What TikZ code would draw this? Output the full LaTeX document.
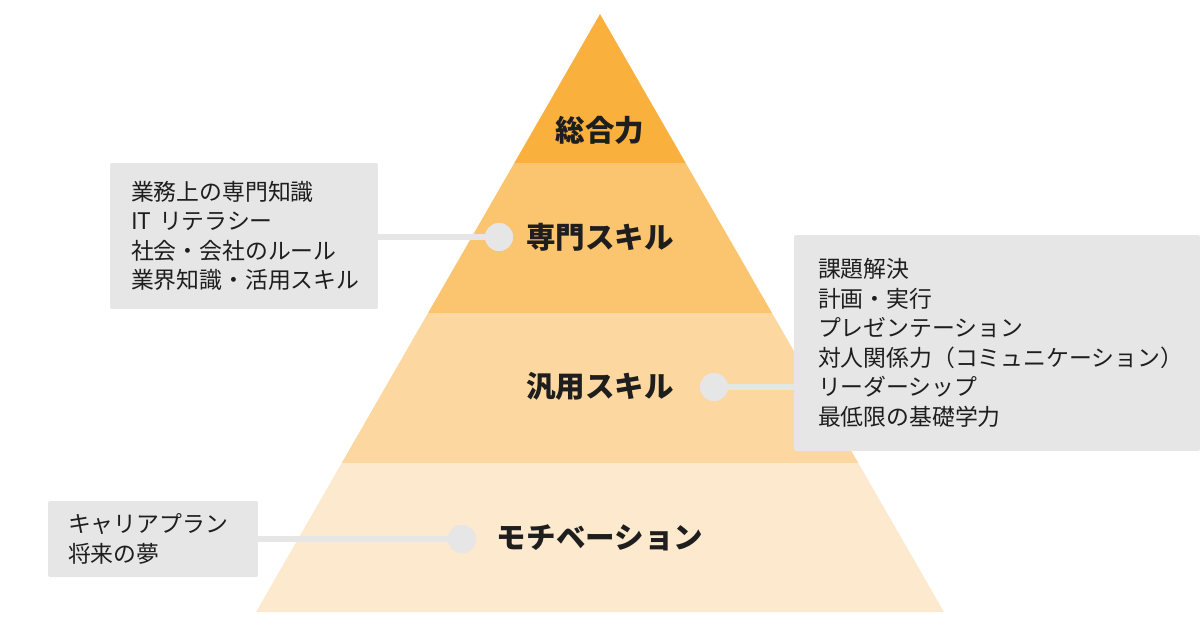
\documentclass[tikz,border=0pt]{standalone}
\usepackage{fontspec}
\setmainfont{Noto Sans CJK JP}
\newfontfamily\jpfont{Noto Sans CJK JP}
\definecolor{layerA}{HTML}{F9B03C}
\definecolor{layerB}{HTML}{FBC46F}
\definecolor{layerC}{HTML}{FCD8A0}
\definecolor{layerD}{HTML}{FDE9CD}
\definecolor{boxcol}{HTML}{E6E6E6}
\definecolor{textcol}{HTML}{1E1E1E}

\tikzset{
  notebox/.style={fill=boxcol, rounded corners=0.4mm, inner ysep=0pt, align=left,
    text=textcol, font=\jpfont\fontsize{13}{16.8}\selectfont},
  layerlabel/.style={text=textcol, font=\jpfont\bfseries\fontsize{16.8}{18}\selectfont},
  dotmark/.style={circle, fill=boxcol, minimum size=5.6mm, inner sep=0pt},
  link/.style={boxcol, line width=1.3mm}
}

\begin{document}
\begin{tikzpicture}[x=0.02cm, y=-0.02cm]
  \useasboundingbox (0,0) rectangle (1200,630);

  % --- Pyramid layers ---
  \fill[layerA] (600,14) -- (685.7,163) -- (514.3,163) -- cycle;
  \fill[layerB] (514.3,163) -- (685.7,163) -- (772,313) -- (428,313) -- cycle;
  \fill[layerC] (428,313) -- (772,313) -- (858.3,463) -- (341.7,463) -- cycle;
  \fill[layerD] (341.7,463) -- (858.3,463) -- (944,612) -- (256,612) -- cycle;

  % Layer labels
  \node[layerlabel] (top) at (600,130) {総合力};
  \node[layerlabel] (pro) at (600,237) {専門スキル};
  \node[layerlabel] (gen) at (600,386) {汎用スキル};
  \node[layerlabel] (mot) at (600,538) {モチベーション};

  % Dots
  \node[dotmark] (dotpro) at (499,237) {};
  \node[dotmark] (dotgen) at (714,387) {};
  \node[dotmark] (dotmot) at (462,539) {};

  % --- Note boxes ---
  \node[notebox, minimum width=53.6mm, minimum height=29.2mm, inner xsep=4.2mm,
    text width=45.2mm] (notepro) at (244,236)
    {業務上の専門知識\\IT リテラシー\\社会・会社のルール\\業界知識・活用スキル};
  \node[notebox, minimum width=81.2mm, minimum height=43.2mm, inner xsep=4.8mm,
    text width=71.6mm] (notegen) at (997,343)
    {課題解決\\計画・実行\\プレゼンテーション\\対人関係力（コミュニケーション）\\リーダーシップ\\最低限の基礎学力};
  \node[notebox, minimum width=42mm, minimum height=15.2mm, inner xsep=4mm,
    text width=34mm] (notemot) at (153,539)
    {キャリアプラン\\将来の夢};

  % Connectors
  \draw[link] (notepro.east |- dotpro) -- (dotpro.center);
  \draw[link] (dotgen.center) -- (notegen.west |- dotgen);
  \draw[link] (notemot.east |- dotmot) -- (dotmot.center);
  \node[dotmark] at (dotpro) {};
  \node[dotmark] at (dotgen) {};
  \node[dotmark] at (dotmot) {};

\end{tikzpicture}
\end{document}
